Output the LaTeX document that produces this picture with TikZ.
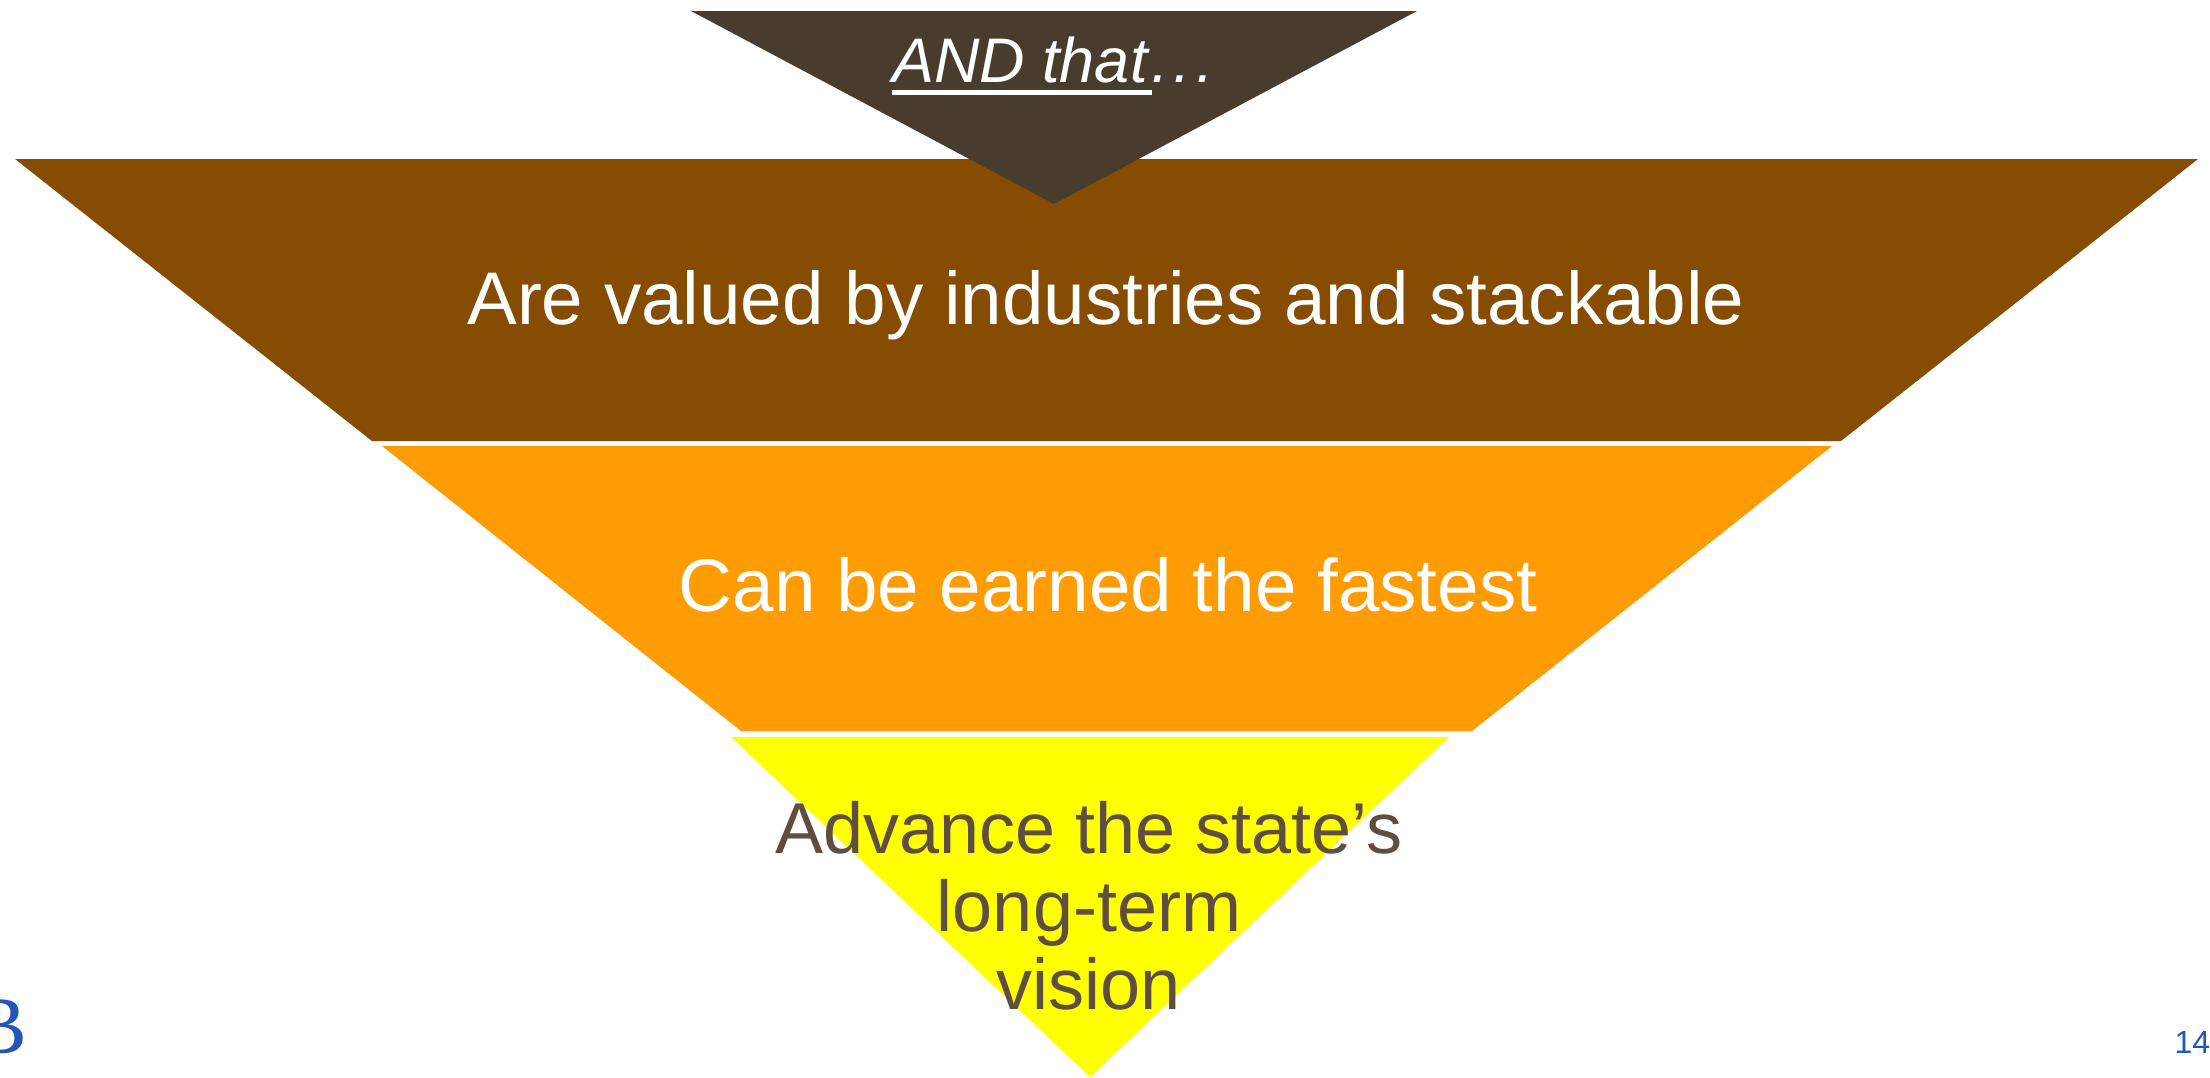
\documentclass[tikz,border=0pt]{standalone}
\usepackage{fontspec}
\setmainfont{Liberation Sans}
\newfontfamily\serifB{Liberation Serif}
\definecolor{darkc}{HTML}{483C2F}
\definecolor{brownc}{HTML}{854C02}
\definecolor{orangec}{HTML}{FF9C03}
\definecolor{yellowc}{HTML}{FFFF00}
\definecolor{textc}{HTML}{5F4E3F}
\definecolor{bluec}{HTML}{2456B8}
\tikzset{
  lab/.style={inner sep=0pt,outer sep=0pt,anchor=base},
  big/.style={lab,font=\fontsize{37.3}{39}\selectfont},
}
\begin{document}
\begin{tikzpicture}[x=0.5pt,y=-0.5pt]
\useasboundingbox (0,0) rectangle (2210,1077);
\fill[brownc] (15,159) -- (2198,159) -- (1841,441) -- (372,441) -- cycle;
\fill[darkc] (691,11) -- (1417,11) -- (1054,204) -- cycle;
\fill[orangec] (382,446) -- (1832,446) -- (1472,731) -- (741,731) -- cycle;
\fill[yellowc] (731,737) -- (1449,737) -- (1090,1077) -- cycle;
\node[lab,anchor=base west,font=\fontsize{31.5}{36}\selectfont\itshape,text=white] (andthat) at (892,82) {AND that\kern2pt.\kern2.4pt.\kern2.4pt.};
\fill[white] (892,89.5) rectangle (1152,95);
\node[big,text=white] (valued) at (1106,324) {Are valued by industries and stackable};
\node[big,text=white] (fastest) at (1108,611) {Can be earned the fastest};
\node[lab,font=\fontsize{36}{39}\selectfont,text=textc,align=center] (vision) at (1089,1009) {Advance the state’s\\long-term\\vision};
\node[lab,anchor=base east,font=\fontsize{41}{41}\selectfont\serifB,text=bluec] (logo) at (27,1053) {B};
\node[lab,anchor=base west,font=\fontsize{16}{16}\selectfont,text=bluec] (page) at (2174.5,1053) {14};
\end{tikzpicture}
\end{document}
